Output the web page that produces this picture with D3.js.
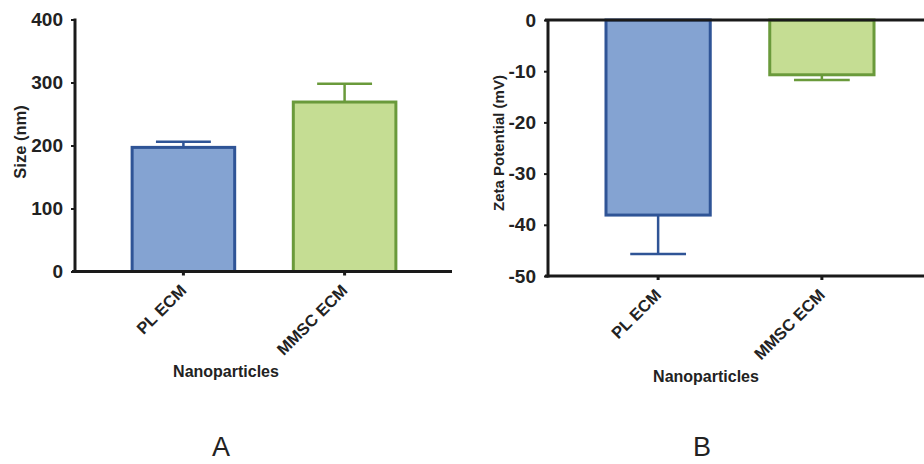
<!DOCTYPE html>
<html>
<head>
<meta charset="utf-8">
<script src="https://cdn.jsdelivr.net/npm/d3@7"></script>
<style>
    body { margin: 0; background: #fff; }
    svg text { font-family: "Liberation Sans", Arial, sans-serif; fill: #222; }
</style>
</head>
<body>
<script>
// Nanoparticle size and zeta potential bar charts, two panels side by side

// Data
var categories = ["PL ECM", "MMSC ECM"];
var sizeMeans = [197, 269];
var sizeErrors = [9, 29];
var zetaMeans = [-38.1, -10.7];
var zetaErrors = [7.6, 1.0];
var sizeTicks = [0, 100, 200, 300, 400];
var zetaTicks = [0, -10, -20, -30, -40, -50];

var fills = ["#84a3d2", "#c5dd93"];
var strokes = ["#2f5496", "#6a9a3b"];

var width = 924, height = 464;

var svg = d3.select("body")
    .append("svg")
    .attr("width", width)
    .attr("height", height);

// Draws one panel; bars grow from zero
function drawPanel(opt) {
    var x = d3.scaleBand()
        .domain(categories)
        .range([opt.left, opt.right])
        .paddingInner(0.345)
        .paddingOuter(0.345);

    var y = d3.scaleLinear()
        .domain(opt.domain)
        .range([opt.bottom, opt.top]);

    var g = svg.append("g");

    // bars
    g.selectAll("rect.bar")
        .data(opt.means)
        .enter().append("rect")
        .attr("class", "bar")
        .attr("x", function(d, i) { return x(categories[i]) + 1.5; })
        .attr("width", x.bandwidth() - 3)
        .attr("y", function(d) { return Math.min(y(d), y(0)); })
        .attr("height", function(d) { return Math.abs(y(d) - y(0)); })
        .attr("fill", function(d, i) { return fills[i]; })
        .attr("stroke", function(d, i) { return strokes[i]; })
        .attr("stroke-width", 3);

    // error bars, one side only (away from zero)
    opt.means.forEach(function(m, i) {
        var cx = x(categories[i]) + x.bandwidth() / 2;
        var end = m >= 0 ? m + opt.errors[i] : m - opt.errors[i];
        var capW = x.bandwidth() * 0.26;
        g.append("line")
            .attr("x1", cx).attr("x2", cx)
            .attr("y1", y(m)).attr("y2", y(end))
            .attr("stroke", strokes[i])
            .attr("stroke-width", 2.5);
        g.append("line")
            .attr("x1", cx - capW).attr("x2", cx + capW)
            .attr("y1", y(end)).attr("y2", y(end))
            .attr("stroke", strokes[i])
            .attr("stroke-width", 2.5);
    });

    // zero line when the baseline is not the bottom axis
    if (opt.domain[0] !== 0) {
        g.append("line")
            .attr("x1", opt.left - 3).attr("x2", width)
            .attr("y1", y(0)).attr("y2", y(0))
            .attr("stroke", "#1a1a1a")
            .attr("stroke-width", 3);
    }

    // y axis
    var yAxis = d3.axisLeft(y)
        .tickValues(opt.ticks)
        .tickSize(4)
        .tickSizeOuter(0)
        .tickPadding(8)
        .tickFormat(function(d) { return String(d); });

    var ya = g.append("g")
        .attr("transform", "translate(" + opt.left + ",0)")
        .call(yAxis);
    ya.select(".domain")
        .attr("stroke", "#1a1a1a")
        .attr("stroke-width", 3)
        .attr("d", "M0," + (opt.top - 1) + "V" + (opt.bottom + 1.5));
    ya.selectAll(".tick line")
        .attr("stroke", "#1a1a1a")
        .attr("stroke-width", 2);
    ya.selectAll(".tick text")
        .style("font-size", "19px")
        .style("font-weight", "bold")
        .style("font-family", "'Liberation Sans', Arial, sans-serif")
        .attr("fill", "#222");

    // x axis at the bottom
    var xAxis = d3.axisBottom(x)
        .tickSize(4)
        .tickSizeOuter(0)
        .tickFormat("");

    var xa = g.append("g")
        .attr("transform", "translate(0," + opt.bottom + ")")
        .call(xAxis);
    xa.select(".domain")
        .attr("stroke", "#1a1a1a")
        .attr("stroke-width", 3)
        .attr("d", "M" + (opt.left - 3) + ",0H" + opt.axisEnd);
    xa.selectAll(".tick line")
        .attr("stroke", "#1a1a1a")
        .attr("stroke-width", 3);

    // rotated category labels
    g.selectAll("text.cat")
        .data(categories)
        .enter().append("text")
        .attr("class", "cat")
        .attr("text-anchor", "end")
        .attr("transform", function(d) {
            var tx = x(d) + x.bandwidth() / 2 + 4;
            return "translate(" + tx + "," + (opt.bottom + 20) + ") rotate(-45)";
        })
        .style("font-size", "16.5px")
        .style("font-weight", "bold")
        .text(function(d) { return d; });

    // axis titles
    g.append("text")
        .attr("text-anchor", "middle")
        .attr("transform", "translate(" + opt.yTitleX + "," + opt.yTitleY +
              ") rotate(-90)")
        .style("font-size", opt.yTitleSize)
        .style("font-weight", "bold")
        .text(opt.yTitle);

    g.append("text")
        .attr("text-anchor", "middle")
        .attr("x", opt.xTitleX)
        .attr("y", opt.xTitleY)
        .style("font-size", "16px")
        .style("font-weight", "bold")
        .text("Nanoparticles");

    // panel letter
    g.append("text")
        .attr("text-anchor", "middle")
        .attr("x", opt.letterX)
        .attr("y", 456)
        .style("font-size", "27px")
        .text(opt.letter);
}

drawPanel({
    left: 75, right: 453, axisEnd: 452,
    top: 19.5, bottom: 271.5,
    domain: [0, 400], ticks: sizeTicks,
    means: sizeMeans, errors: sizeErrors,
    yTitle: "Size (nm)", yTitleX: 26, yTitleY: 142, yTitleSize: "16.5px",
    xTitleX: 226, xTitleY: 377,
    letter: "A", letterX: 221
});

drawPanel({
    left: 548, right: 932, axisEnd: width,
    top: 20, bottom: 276,
    domain: [-50, 0], ticks: zetaTicks,
    means: zetaMeans, errors: zetaErrors,
    yTitle: "Zeta Potential (mV)", yTitleX: 504, yTitleY: 143,
    yTitleSize: "15px",
    xTitleX: 706, xTitleY: 382,
    letter: "B", letterX: 702
});
</script>
</body>
</html>
